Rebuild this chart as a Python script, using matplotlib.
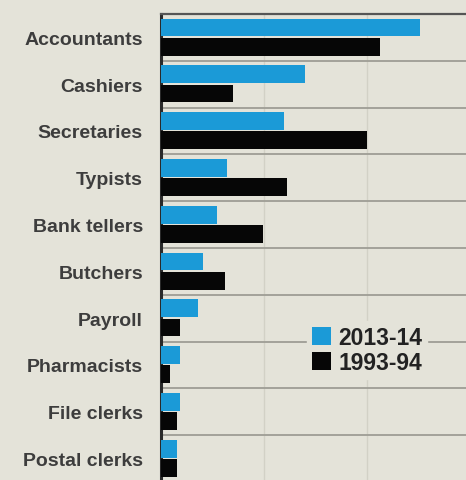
import matplotlib
matplotlib.use("Agg")
import matplotlib.pyplot as plt
from matplotlib.patches import Patch
import numpy as np

# Occupations and their values for the two periods
categories = ["Accountants", "Cashiers", "Secretaries", "Typists", "Bank tellers",
              "Butchers", "Payroll", "Pharmacists", "File clerks", "Postal clerks"]
values_2013 = [25.1, 14.0, 11.9, 6.4, 5.4, 4.1, 3.6, 1.8, 1.8, 1.6]
values_1993 = [21.3, 7.0, 20.0, 12.2, 9.9, 6.2, 1.8, 0.9, 1.6, 1.6]
series_labels = ["2013-14", "1993-94"]

BG = "#e4e3d9"
BLUE = "#1b9ad7"
BLACK = "#060606"

W, H = 466, 481
fig = plt.figure(figsize=(W / 100, H / 100), dpi=100, facecolor=BG)
ax = fig.add_axes([161 / W, 0, 1 - 161 / W, 1 - 15 / H])
ax.set_facecolor(BG)

y = np.arange(len(categories))
bh = 0.38
ax.barh(y - 0.21, values_2013, height=bh, color=BLUE, zorder=3)
ax.barh(y + 0.2, values_1993, height=bh, color=BLACK, zorder=3)

row_px = 46.8
ax.set_ylim(-0.5 + (H - 15) / row_px, -0.5)
ax.set_xlim(0, 29.6)

# faint vertical gridlines
for gx in (10, 20):
    ax.axvline(gx, color="#d2d1c6", lw=1.0, zorder=1)
# row separators
for i in range(len(categories) - 1):
    ax.axhline(i + 0.5, color="#9e9d95", lw=1.3, zorder=2)

ax.set_yticks(y)
ax.set_yticklabels(categories, fontsize=14, color="#3d3d3d",
                   family="Liberation Sans", fontweight="bold")
ax.tick_params(axis="y", length=0, pad=13)
ax.set_xticks([])

for s in ("right", "bottom"):
    ax.spines[s].set_visible(False)
ax.spines["left"].set_color("#2a2a2a")
ax.spines["left"].set_linewidth(2.2)
ax.spines["top"].set_color("#555555")
ax.spines["top"].set_linewidth(1.6)

fs = 16.5
handles = [Patch(facecolor=BLUE), Patch(facecolor=BLACK)]
leg = fig.legend(handles, series_labels, loc="center left",
                 bbox_to_anchor=(307 / W, 1 - 351 / H),
                 frameon=True, facecolor=BG, edgecolor=BG, framealpha=1,
                 handlelength=0.84, handleheight=0.84, handletextpad=0.33,
                 labelspacing=0.1, borderpad=0.2, borderaxespad=0,
                 prop={"family": "Liberation Sans", "weight": "bold", "size": fs})
for t in leg.get_texts():
    t.set_color("#222222")

fig.savefig("out.png", dpi=100, facecolor=BG)
